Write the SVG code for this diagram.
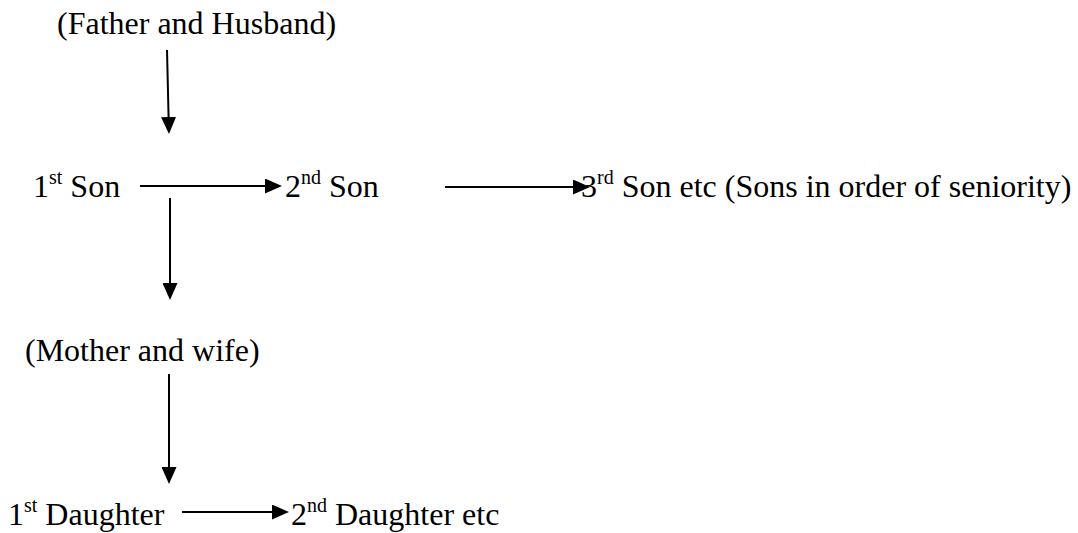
<svg xmlns="http://www.w3.org/2000/svg" width="1078" height="533" viewBox="0 0 1078 533">
  <style>
    .lbl { font-family: "Liberation Serif", "Times New Roman", serif; font-size: 32px; fill: #000; }
    .sup { font-size: 20px; }
    .conn { stroke: #000; stroke-width: 2; fill: none; marker-end: url(#head); }
  </style>
  <defs>
    <marker id="head" markerUnits="userSpaceOnUse" markerWidth="17" markerHeight="15" refX="9" refY="7.5" orient="auto">
      <path d="M0,0 L17,7.5 L0,15 z" fill="#000"/>
    </marker>
  </defs>
  <rect width="1078" height="533" fill="#fff"/>

  <g id="connectors">
    <line class="conn" x1="167" y1="50" x2="168.8" y2="126"/>
    <line class="conn" x1="140" y1="186" x2="274" y2="186"/>
    <line class="conn" x1="170" y1="198" x2="170" y2="292"/>
    <line class="conn" x1="445" y1="187" x2="582" y2="187"/>
    <line class="conn" x1="169" y1="374" x2="169" y2="476"/>
    <line class="conn" x1="182" y1="512" x2="281" y2="512"/>
  </g>

  <g id="father">
    <text class="lbl" x="57" y="34">(Father and Husband)</text>
  </g>
  <g id="son1">
    <text class="lbl" x="33" y="197">1<tspan class="sup" dy="-13">st</tspan><tspan dy="13"> Son</tspan></text>
  </g>
  <g id="son2">
    <text class="lbl" x="285" y="197">2<tspan class="sup" dy="-13">nd</tspan><tspan dy="13"> Son</tspan></text>
  </g>
  <g id="son3">
    <text class="lbl" x="581" y="197">3<tspan class="sup" dy="-13">rd</tspan><tspan dy="13"> Son etc (Sons in order of seniority)</tspan></text>
  </g>
  <g id="mother">
    <text class="lbl" x="25" y="361">(Mother and wife)</text>
  </g>
  <g id="daughter1">
    <text class="lbl" x="8" y="525">1<tspan class="sup" dy="-13">st</tspan><tspan dy="13"> Daughter</tspan></text>
  </g>
  <g id="daughter2">
    <text class="lbl" x="291" y="525">2<tspan class="sup" dy="-13">nd</tspan><tspan dy="13"> Daughter etc</tspan></text>
  </g>
</svg>
